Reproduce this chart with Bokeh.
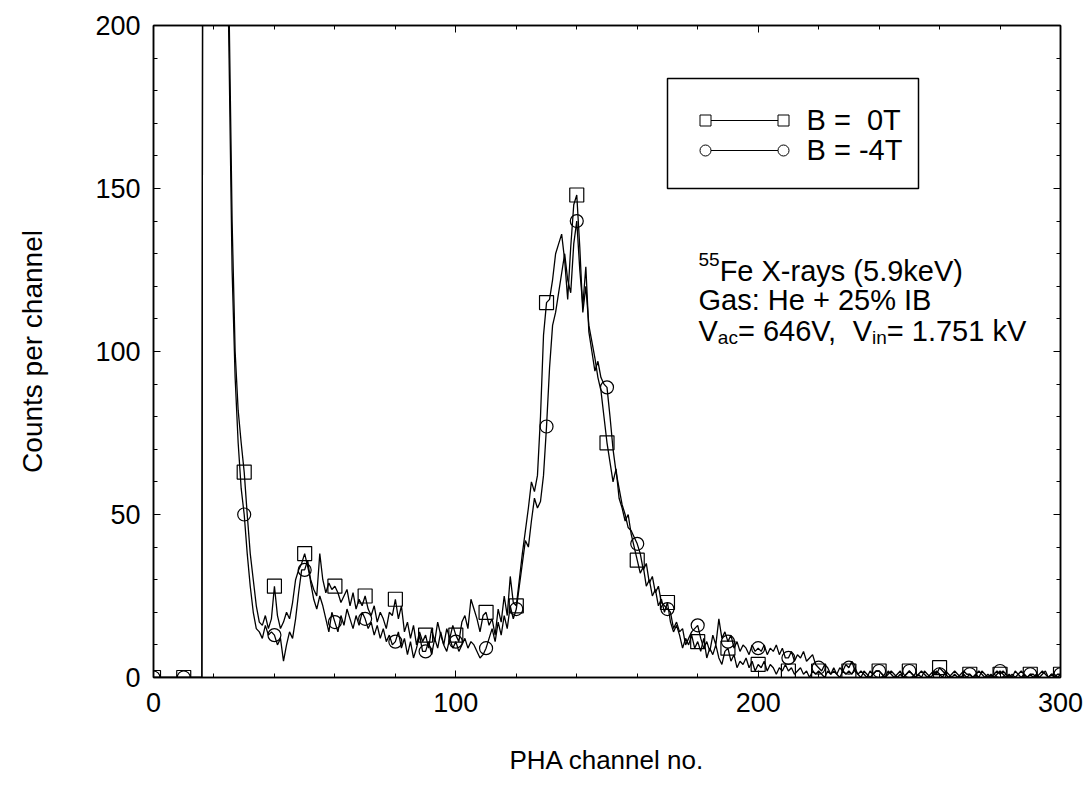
from bokeh.plotting import figure
from bokeh.models import Range1d, LinearAxis, SingleIntervalTicker, Label, ColumnDataSource
from bokeh.embed import file_html
from bokeh.resources import INLINE

# ---------------- data ----------------
channel = list(range(0, 301))

counts_b0 = [
    0, 0, 0, 0, 0, 0, 0, 0, 0, 0,
    0, 0, 0, 0, 0, 0, 0, 900, 800, 700,
    600, 500, 420, 340, 260, 205, 140, 100, 82, 72,
    63, 50, 38, 30, 22, 17, 16, 19, 15, 18,
    28, 19, 15, 17, 20, 18, 23, 30, 33, 35,
    38, 34, 30, 27, 25, 38, 30, 26, 29, 27,
    28, 26, 23, 25, 27, 22, 26, 21, 24, 22,
    25, 21, 19, 22, 17, 20, 18, 15, 20, 19,
    24, 18, 22, 14, 17, 12, 16, 10, 14, 11,
    13, 9, 15, 11, 17, 13, 10, 15, 12, 16,
    13, 11, 17, 19, 15, 24, 21, 18, 14, 19,
    20, 16, 18, 13, 21, 17, 25, 19, 31, 23,
    22, 30, 38, 45, 52, 60, 57, 62, 80, 105,
    115, 116, 122, 130, 133, 136, 128, 116, 132, 145,
    148, 132, 112, 120, 108, 103, 98, 92, 88, 80,
    72, 66, 60, 64, 55, 52, 48, 50, 44, 40,
    36, 32, 34, 28, 30, 25, 27, 22, 24, 20,
    23, 17, 14, 16, 13, 9, 12, 10, 13, 9,
    11, 8, 12, 6, 9, 7, 10, 6, 4, 8,
    9, 5, 7, 3, 5, 4, 6, 3, 5, 2,
    4, 3, 5, 2, 4, 3, 1, 3, 2, 4,
    2, 3, 1, 2, 3, 1, 2, 0, 2, 1,
    2, 1, 0, 2, 1, 3, 1, 0, 2, 1,
    2, 1, 3, 1, 0, 2, 1, 0, 1, 2,
    2, 1, 0, 1, 2, 1, 0, 1, 0, 1,
    2, 1, 0, 1, 2, 1, 0, 1, 2, 1,
    3, 2, 1, 0, 1, 2, 1, 0, 1, 0,
    1, 0, 1, 2, 1, 0, 1, 0, 1, 2,
    1, 2, 1, 0, 1, 0, 1, 2, 1, 0,
    1, 1, 0, 1, 2, 1, 0, 1, 1, 0,
    1,
]

counts_b4 = [
    0, 0, 0, 0, 0, 0, 0, 0, 0, 0,
    0, 0, 0, 0, 0, 0, 0, 900, 800, 700,
    600, 500, 400, 320, 250, 190, 125, 92, 72, 58,
    50, 38, 28, 20, 15, 14, 12, 16, 13, 14,
    13, 10, 12, 5, 10, 14, 12, 18, 26, 33,
    33, 36, 29, 24, 21, 25, 22, 18, 14, 20,
    17, 14, 19, 16, 21, 18, 15, 19, 16, 20,
    18, 15, 17, 13, 16, 12, 15, 11, 13, 10,
    11, 14, 9, 12, 7, 11, 6, 9, 13, 8,
    8, 11, 7, 12, 9, 14, 10, 8, 12, 9,
    11, 8, 10, 12, 9, 11, 10, 8, 6, 7,
    9, 12, 15, 11, 17, 13, 19, 15, 22, 18,
    21, 28, 35, 42, 40, 48, 55, 52, 54, 62,
    77, 95, 108, 112, 118, 124, 130, 122, 118, 133,
    140, 125, 114, 126, 106, 100, 94, 97, 92, 90,
    89, 80, 70, 63, 58, 53, 50, 46, 45, 43,
    41, 38, 33, 35, 29, 31, 26, 28, 23, 22,
    21, 20, 15, 17, 14, 15, 10, 12, 14, 15,
    16, 12, 9, 11, 8, 13, 10, 18, 12, 14,
    11, 13, 9, 11, 8, 10, 9, 7, 10, 8,
    9, 8, 10, 7, 9, 8, 10, 7, 9, 6,
    6, 8, 5, 7, 6, 8, 5, 6, 7, 4,
    3, 2, 4, 3, 1, 2, 1, 3, 2, 4,
    3, 5, 2, 1, 2, 1, 0, 2, 1, 2,
    2, 1, 0, 2, 1, 0, 1, 2, 0, 1,
    2, 1, 0, 1, 0, 2, 1, 0, 1, 2,
    1, 0, 2, 1, 0, 1, 0, 1, 2, 1,
    1, 0, 1, 0, 2, 1, 0, 1, 0, 1,
    2, 1, 0, 1, 0, 2, 1, 0, 1, 0,
    1, 0, 1, 0, 1, 2, 0, 1, 0, 1,
    1,
]

series_labels = ["B = \u00a00T", "B = -4T"]
x_ticks_major = 100
y_ticks_major = 50
marker_every = 10

FONT = "Liberation Sans"
TXT = 29      # annotation / legend font size (px)
SUB = 19      # sub/superscript size (px)

# Arial / Liberation Sans advance widths (1/1000 em) for placing text pieces
ADV = {" ": 278, "%": 889, "(": 333, ")": 333, "+": 584, ",": 278, "-": 333, ".": 278,
       ":": 278, "=": 584, "B": 667, "F": 611, "G": 778, "H": 722, "I": 278, "T": 611,
       "V": 667, "X": 667, "a": 556, "c": 500, "e": 556, "i": 222, "k": 500, "n": 556,
       "r": 333, "s": 500, "y": 500}
def text_w(s, size):
    return sum(ADV.get(ch, 556) for ch in s) * size / 1000.0

# ---------------- figure ----------------
p = figure(width=1084, height=783, output_backend="svg", toolbar_location=None,
           x_range=Range1d(0, 300), y_range=Range1d(0, 200),
           min_border_left=153, min_border_right=24, min_border_top=25, min_border_bottom=106)
p.background_fill_color = "white"
p.border_fill_color = "white"
p.outline_line_color = "black"
p.outline_line_width = 1.5
p.xgrid.visible = False
p.ygrid.visible = False

# page-pixel helper ranges for decorations (legend box & annotation)
p.extra_x_ranges = {"px": Range1d(153, 1060)}
p.extra_y_ranges = {"px": Range1d(677, 25)}

def style_axis(ax, show_labels=True):
    ax.axis_line_color = "black"
    ax.axis_line_width = 1.5
    ax.major_tick_in = 7
    ax.major_tick_out = 0
    ax.minor_tick_in = 4
    ax.minor_tick_out = 0
    ax.major_tick_line_color = "black"
    ax.minor_tick_line_color = "black"
    ax.major_label_text_font = FONT
    ax.major_label_text_color = "black"
    ax.axis_label_text_font = FONT
    ax.axis_label_text_font_style = "normal"
    ax.axis_label_text_color = "black"
    if not show_labels:
        ax.major_label_text_font_size = "0px"
        ax.major_label_standoff = 0

xt = SingleIntervalTicker(interval=x_ticks_major, num_minor_ticks=5)
yt = SingleIntervalTicker(interval=y_ticks_major, num_minor_ticks=5)
p.xaxis.ticker = xt
p.yaxis.ticker = yt
for ax in p.xaxis + p.yaxis:
    style_axis(ax)
p.xaxis.major_label_text_font_size = "27px"
p.yaxis.major_label_text_font_size = "27px"
p.xaxis.major_label_standoff = 15
p.yaxis.major_label_standoff = 13
p.xaxis.axis_label = "PHA channel no."
p.yaxis.axis_label = "Counts per channel"
p.xaxis.axis_label_text_font_size = "26px"
p.yaxis.axis_label_text_font_size = "28px"
p.xaxis.axis_label_standoff = 30
p.yaxis.axis_label_standoff = 44

rax = LinearAxis(ticker=SingleIntervalTicker(interval=y_ticks_major, num_minor_ticks=5))
style_axis(rax, show_labels=False)
p.add_layout(rax, "right")
tax = LinearAxis(ticker=SingleIntervalTicker(interval=x_ticks_major, num_minor_ticks=5))
style_axis(tax, show_labels=False)
p.add_layout(tax, "above")

# ---------------- data marks ----------------
src = ColumnDataSource(dict(x=channel, b0=counts_b0, b4=counts_b4))
msrc = ColumnDataSource(dict(x=channel[::marker_every], b0=counts_b0[::marker_every],
                             b4=counts_b4[::marker_every]))

p.line("x", "b4", source=src, line_color="black", line_width=1.3)
p.line("x", "b0", source=src, line_color="black", line_width=1.3)
p.scatter("x", "b0", source=msrc, marker="square", size=14, fill_color=None,
          line_color="black", line_width=1.2)
p.scatter("x", "b4", source=msrc, marker="circle", size=13, fill_color=None,
          line_color="black", line_width=1.2)

# ---------------- legend (drawn in page-pixel helper range) ----------------
p.quad(left=[667], right=[918], top=[78], bottom=[188], fill_color="white",
       line_color="black", line_width=1.5, x_range_name="px", y_range_name="px")
rows_y = [120, 150]
markers = ["square", "circle"]
for ry, mk, lab in zip(rows_y, markers, series_labels):
    p.line([705, 783], [ry, ry], line_color="black", line_width=1,
           x_range_name="px", y_range_name="px")
    p.scatter([705, 783], [ry, ry], marker=mk, size=11, fill_color="white",
              line_color="black", line_width=1, x_range_name="px", y_range_name="px")
    p.add_layout(Label(x=806, y=ry - 1, text=lab, text_font=FONT,
                       text_font_size=f"{TXT}px", text_baseline="alphabetic",
                       text_color="black", x_range_name="px", y_range_name="px"))

# ---------------- annotation text ----------------
def lab(x, y, text, size):
    p.add_layout(Label(x=x, y=y, text=text, text_font=FONT, text_font_size=f"{size}px",
                       text_baseline="alphabetic", text_color="black",
                       x_range_name="px", y_range_name="px"))

def rich_line(x, base, pieces):
    # pieces: (text, kind, extra_gap) with kind "n" normal, "sup", "sub"
    for text, kind, gap in pieces:
        x += gap
        if kind == "n":
            lab(x, base, text, TXT)
            x += text_w(text, TXT)
        elif kind == "sup":
            lab(x, base - 11, text, SUB)
            x += text_w(text, SUB)
        else:
            lab(x, base + 7, text, SUB)
            x += text_w(text, SUB)

X0 = 698
rich_line(X0, 270, [("55", "sup", 0), ("Fe X-rays (5.9keV)", "n", 0)])
rich_line(X0, 299, [("Gas: He + 25% IB", "n", 0)])
rich_line(X0, 330, [("V", "n", 0), ("ac", "sub", 0), ("= 646V,", "n", 0), ("V", "n", 14),
                    ("in", "sub", 0), ("= 1.751 kV", "n", 0)])

open("out.html", "w").write(file_html(p, INLINE))
